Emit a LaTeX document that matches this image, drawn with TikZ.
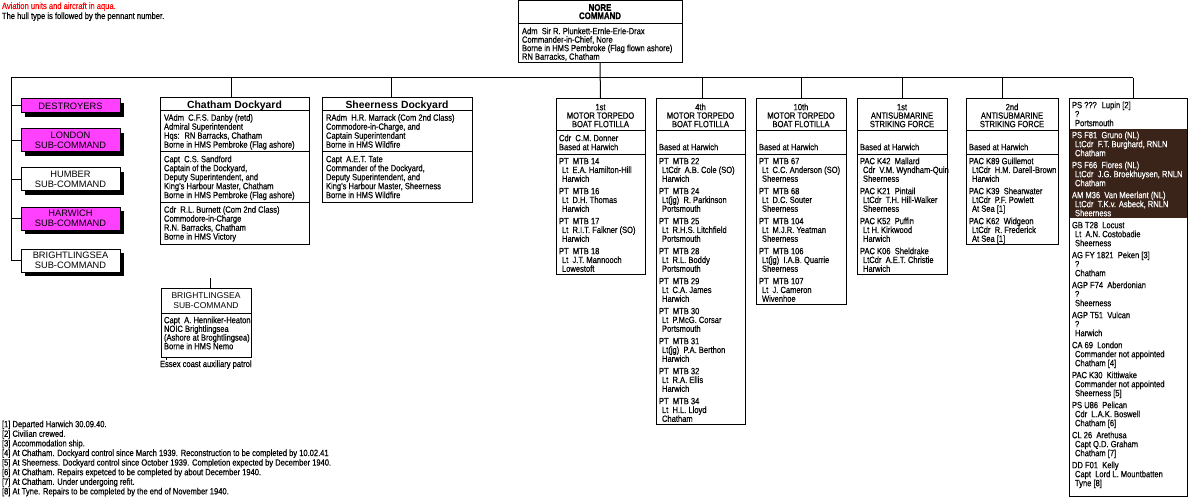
\documentclass[tikz,border=0pt]{standalone}
\usepackage{fontspec}
\setmainfont{Liberation Sans}[FakeStretch=0.84,FakeBold=0.35]
\newfontfamily\wide{Liberation Sans}
\newfontfamily\wideb{Liberation Sans Bold}
\newfontfamily\narrowb{Liberation Sans Bold}[FakeStretch=0.82,FakeBold=1.2]
\usetikzlibrary{shadows}
\definecolor{magbox}{RGB}{255,64,255}
\definecolor{hull}{RGB}{58,36,26}
\newcommand\pb[4]{\parbox[t]{#1}{#2\lineskiplimit=-20pt\lineskip=0pt\baselineskip=#3\relax #4}}
\newcommand\bodyf{\fontsize{9}{9}\selectfont\raggedright}
\newcommand\titf{\fontsize{9}{9}\selectfont\centering}
\newcommand\ent[3]{#1\\\hspace*{3pt}#2\\\hspace*{3pt}#3}
\begin{document}
\begin{tikzpicture}[x=1pt,y=-1pt,line width=1pt,
 box/.style={draw,fill=white,inner sep=0pt,outer sep=0pt,anchor=north west},
 tx/.style={anchor=base west,inner sep=0pt,outer sep=0pt},
 subbox/.style={draw,fill=white,inner sep=0pt,outer sep=0pt,anchor=north west,minimum width=99pt,minimum height=23pt,align=center,font=\wide\fontsize{9.3}{10}\selectfont,general shadow={fill=black,shadow xshift=4pt,shadow yshift=-4pt}},
 hot/.style={fill=magbox}]
\useasboundingbox (0,0) rectangle (1200,500);
\fill[white] (0,0) rectangle (1200,500);

% legend
\node[tx] (legend1) at (2,9) {\fontsize{9}{9}\selectfont\textcolor{red}{Aviation units and aircraft in aqua.}};
\node[tx] (legend2) at (2,19) {\fontsize{9}{9}\selectfont The hull type is followed by the pennant number.};

% Nore command
\node[box,minimum width=164pt,minimum height=62pt] (nore) at (518,1) {};
\draw (518,24) -- (682,24);
\node[tx] (noret) at (518,10.8) {\pb{164pt}{\narrowb\fontsize{9.6}{8}\selectfont\centering}{8.3pt}{NORE\\COMMAND}};
\node[tx] (noreb) at (522,34.2) {\pb{170pt}{\bodyf}{8.5pt}{Adm~ Sir R. Plunkett-Ernle-Erle-Drax\\Commander-in-Chief, Nore\\Borne in HMS Pembroke (Flag flown ashore)\\RN Barracks, Chatham}};

% left sub-commands
\node[subbox,hot,minimum height=14pt] (dest) at (21,99) {DESTROYERS};
\node[subbox,hot] (lond) at (21,129) {LONDON\\SUB-COMMAND};
\node[subbox] (humb) at (21,168) {HUMBER\\SUB-COMMAND};
\node[subbox,hot] (harw) at (21,207) {HARWICH\\SUB-COMMAND};
\node[subbox] (brig) at (21,249) {BRIGHTLINGSEA\\SUB-COMMAND};

% Chatham Dockyard
\node[box,minimum width=149pt,minimum height=146pt] (chat) at (160,98) {};
\draw (160,111) -- (309,111);
\draw (160,152) -- (309,152);
\draw (160,202.5) -- (309,202.5);
\node[tx] (chatt) at (160,108.2) {\pb{149pt}{\wideb\fontsize{10.4}{12}\selectfont\centering}{12pt}{Chatham Dockyard}};
\node[tx] (chat1) at (164,120.7) {\pb{160pt}{\bodyf}{9pt}{VAdm~ C.F.S. Danby (retd)\\Admiral Superintendent\\Hqs:~ RN Barracks, Chatham\\Borne in HMS Pembroke (Flag ashore)}};
\node[tx] (chat2) at (164,162.2) {\pb{160pt}{\bodyf}{9pt}{Capt~ C.S. Sandford\\Captain of the Dockyard,\\Deputy Superintendent, and\\King's Harbour Master, Chatham\\Borne in HMS Pembroke (Flag ashore)}};
\node[tx] (chat3) at (164,212.7) {\pb{160pt}{\bodyf}{9pt}{Cdr~ R.L. Burnett (Com 2nd Class)\\Commodore-in-Charge\\R.N. Barracks, Chatham\\Borne in HMS Victory}};

% Sheerness Dockyard
\node[box,minimum width=150pt,minimum height=104.5pt] (sheer) at (322,98) {};
\draw (322,111) -- (472,111);
\draw (322,152) -- (472,152);
\node[tx] (sheert) at (322,108.2) {\pb{150pt}{\wideb\fontsize{10.4}{12}\selectfont\centering}{12pt}{Sheerness Dockyard}};
\node[tx] (sheer1) at (326,120.7) {\pb{160pt}{\bodyf}{9pt}{RAdm~ H.R. Marrack (Com 2nd Class)\\Commodore-in-Charge, and\\Captain Superintendant\\Borne in HMS Wildfire}};
\node[tx] (sheer2) at (326,162.2) {\pb{160pt}{\bodyf}{9pt}{Capt~ A.E.T. Tate\\Commander of the Dockyard,\\Deputy Superintendent, and\\King's Harbour Master, Sheerness\\Borne in HMS Wildfire}};

% Brightlingsea sub-command
\node[box,minimum width=90pt,minimum height=69pt] (bsub) at (161,288) {};
\draw (161,313) -- (251,313);
\node[tx] (bsubt) at (161,298) {\pb{90pt}{\wide\fontsize{8.5}{10}\selectfont\centering}{10pt}{BRIGHTLINGSEA\\SUB-COMMAND}};
\node[tx] (bsubb) at (164,323.2) {\pb{120pt}{\bodyf}{8.7pt}{Capt~ A. Henniker-Heaton\\NOIC Brightlingsea\\(Ashore at Broghtlingsea)\\Borne in HMS Nemo}};
\node[tx] (essex) at (160,367) {\fontsize{9}{9}\selectfont Essex coast auxiliary patrol};
\coordinate (bstub) at (210,278);
\draw (bstub) -- (bstub |- bsub.north);
\coordinate (etick) at (166,357);
\draw (etick) -- ++(0,3);

% 1st MTB
\node[box,minimum width=89pt,minimum height=175pt] (mtb1) at (556,99) {};
\draw (556,131) -- (645,131);
\draw (556,155) -- (645,155);
\node[tx] (mtb1t) at (556,110.2) {\pb{89pt}{\titf}{8.5pt}{1st\\MOTOR TORPEDO\\BOAT FLOTILLA}};
\node[tx] (mtb1s) at (559,141.2) {\pb{150pt}{\bodyf}{9pt}{Cdr~ C.M. Donner\\Based at Harwich}};
\node[tx] (mtb1l) at (559,164.2) {\pb{150pt}{\bodyf}{8.8pt}{\ent{PT~ MTB 14}{Lt~ E.A. Hamilton-Hill}{Harwich}\\[3.6pt]\ent{PT~ MTB 16}{Lt~ D.H. Thomas}{Harwich}\\[3.6pt]\ent{PT~ MTB 17}{Lt~ R.I.T. Falkner (SO)}{Harwich}\\[3.6pt]\ent{PT~ MTB 18}{Lt~ J.T. Mannooch}{Lowestoft}}};

% 4th MTB
\node[box,minimum width=89pt,minimum height=325pt] (mtb4) at (656,99) {};
\draw (656,131) -- (745,131);
\draw (656,155) -- (745,155);
\node[tx] (mtb4t) at (656,110.2) {\pb{89pt}{\titf}{8.5pt}{4th\\MOTOR TORPEDO\\BOAT FLOTILLA}};
\node[tx] (mtb4s) at (659,150.2) {\pb{150pt}{\bodyf}{9pt}{Based at Harwich}};
\node[tx] (mtb4l) at (659,164.2) {\pb{150pt}{\bodyf}{8.8pt}{\ent{PT~ MTB 22}{LtCdr~ A.B. Cole (SO)}{Harwich}\\[3.6pt]\ent{PT~ MTB 24}{Lt(jg)~ R. Parkinson}{Portsmouth}\\[3.6pt]\ent{PT~ MTB 25}{Lt~ R.H.S. Litchfield}{Portsmouth}\\[3.6pt]\ent{PT~ MTB 28}{Lt~ R.L. Boddy}{Portsmouth}\\[3.6pt]\ent{PT~ MTB 29}{Lt~ C.A. James}{Harwich}\\[3.6pt]\ent{PT~ MTB 30}{Lt~ P.McG. Corsar}{Portsmouth}\\[3.6pt]\ent{PT~ MTB 31}{Lt(jg)~ P.A. Berthon}{Harwich}\\[3.6pt]\ent{PT~ MTB 32}{Lt~ R.A. Ellis}{Harwich}\\[3.6pt]\ent{PT~ MTB 34}{Lt~ H.L. Lloyd}{Chatham}}};

% 10th MTB
\node[box,minimum width=90pt,minimum height=205pt] (mtb10) at (756,99) {};
\draw (756,131) -- (846,131);
\draw (756,155) -- (846,155);
\node[tx] (mtb10t) at (756,110.2) {\pb{90pt}{\titf}{8.5pt}{10th\\MOTOR TORPEDO\\BOAT FLOTILLA}};
\node[tx] (mtb10s) at (759,150.2) {\pb{150pt}{\bodyf}{9pt}{Based at Harwich}};
\node[tx] (mtb10l) at (759,164.2) {\pb{150pt}{\bodyf}{8.8pt}{\ent{PT~ MTB 67}{Lt~ C.C. Anderson (SO)}{Sheerness}\\[3.6pt]\ent{PT~ MTB 68}{Lt~ D.C. Souter}{Sheerness}\\[3.6pt]\ent{PT~ MTB 104}{Lt~ M.J.R. Yeatman}{Sheerness}\\[3.6pt]\ent{PT~ MTB 106}{Lt(jg)~ I.A.B. Quarrie}{Sheerness}\\[3.6pt]\ent{PT~ MTB 107}{Lt~ J. Cameron}{Wivenhoe}}};

% 1st ASF
\node[box,minimum width=90pt,minimum height=175pt] (asf1) at (857,99) {};
\draw (857,131) -- (947,131);
\draw (857,155) -- (947,155);
\node[tx] (asf1t) at (857,110.2) {\pb{90pt}{\titf}{8.5pt}{1st\\ANTISUBMARINE\\STRIKING FORCE}};
\node[tx] (asf1s) at (860,150.2) {\pb{150pt}{\bodyf}{9pt}{Based at Harwich}};
\node[tx] (asf1l) at (860,164.2) {\pb{150pt}{\bodyf}{8.8pt}{\ent{PAC K42~ Mallard}{Cdr~ V.M. Wyndham-Quin}{Sheerness}\\[3.6pt]\ent{PAC K21~ Pintail}{LtCdr~ T.H. Hill-Walker}{Sheerness}\\[3.6pt]\ent{PAC K52~ Puffin}{Lt H. Kirkwood}{Harwich}\\[3.6pt]\ent{PAC K06~ Sheldrake}{LtCdr~ A.E.T. Christie}{Harwich}}};

% 2nd ASF
\node[box,minimum width=92pt,minimum height=145pt] (asf2) at (966,99) {};
\draw (966,131) -- (1058,131);
\draw (966,155) -- (1058,155);
\node[tx] (asf2t) at (966,110.2) {\pb{92pt}{\titf}{8.5pt}{2nd\\ANTISUBMARINE\\STRIKING FORCE}};
\node[tx] (asf2s) at (969,150.2) {\pb{150pt}{\bodyf}{9pt}{Based at Harwich}};
\node[tx] (asf2l) at (969,164.2) {\pb{150pt}{\bodyf}{8.8pt}{\ent{PAC K89 Guillemot}{LtCdr~ H.M. Darell-Brown}{Harwich}\\[3.6pt]\ent{PAC K39~ Shearwater}{LtCdr~ P.F. Powlett}{At Sea [1]}\\[3.6pt]\ent{PAC K62~ Widgeon}{LtCdr~ R. Frederick}{At Sea [1]}}};

% right column of ships
\node[box,minimum width=118pt,minimum height=397pt] (rcol) at (1069,99) {};
\fill[hull] (1069.5,129) rectangle (1186.5,218);
\node[tx] (rc1) at (1072,108.2) {\pb{150pt}{\bodyf}{9pt}{\ent{PS ???~ Lupin [2]}{?}{Portsmouth}}};
\node[tx,text=white] (rc2) at (1072,138.2) {\pb{150pt}{\bodyf}{9pt}{\ent{PS F81~ Gruno (NL)}{LtCdr~ F.T. Burghard, RNLN}{Chatham}\\[3pt]\ent{PS F66~ Flores (NL)}{LtCdr~ J.G. Broekhuysen, RNLN}{Chatham}\\[3pt]\ent{AM M36~ Van Meerlant (NL)}{LtCdr~ T.K.v. Asbeck, RNLN}{Sheerness}}};
\node[tx] (rc3) at (1072,228.2) {\pb{150pt}{\bodyf}{9pt}{\ent{GB T28~ Locust}{Lt~ A.N. Costobadie}{Sheerness}\\[3pt]\ent{AG FY 1821~ Peken [3]}{?}{Chatham}\\[3pt]\ent{AGP F74~ Aberdonian}{?}{Sheerness}\\[3pt]\ent{AGP T51~ Vulcan}{?}{Harwich}\\[3pt]\ent{CA 69~ London}{Commander not appointed}{Chatham [4]}\\[3pt]\ent{PAC K30~ Kittiwake}{Commander not appointed}{Sheerness [5]}\\[3pt]\ent{PS U86~ Pelican}{Cdr~ L.A.K. Boswell}{Chatham [6]}\\[3pt]\ent{CL 26~ Arethusa}{Capt Q.D. Graham}{Chatham [7]}\\[3pt]\ent{DD F01~ Kelly}{Capt~ Lord L. Mountbatten}{Tyne [8]}}};

% footnotes
\node[tx] (notes) at (2,427.2) {\pb{400pt}{\bodyf}{9.6pt}{[1] Departed Harwich 30.09.40.\\{}[2] Civilian crewed.\\{}[3] Accommodation ship.\\{}[4] At Chatham. Dockyard control since March 1939. Reconstruction to be completed by 10.02.41\\{}[5] At Sheerness. Dockyard control since October 1939. Completion expected by December 1940.\\{}[6] At Chatham. Repairs expetced to be completed by about December 1940.\\{}[7] At Chatham. Under undergoing refit.\\{}[8] At Tyne. Repairs to be completed by the end of November 1940.}};

% connectors
\coordinate (busL) at (11,78);
\coordinate (busR) at (1133,78);
\draw (busL) -- (busR);
\foreach \n in {dest,lond,humb,harw,brig} \draw (busL) |- (\n.west);
\draw (nore.south) -- (mtb1.north);
\foreach \n/\s in {chat/-3,sheer/-6,mtb4/1.5,mtb10/0,asf1/0,asf2/-10,rcol/5} {
  \path ([xshift=\s pt]\n.north) coordinate (dtop);
  \draw (dtop) -- (dtop |- busL);
}
\end{tikzpicture}
\end{document}
